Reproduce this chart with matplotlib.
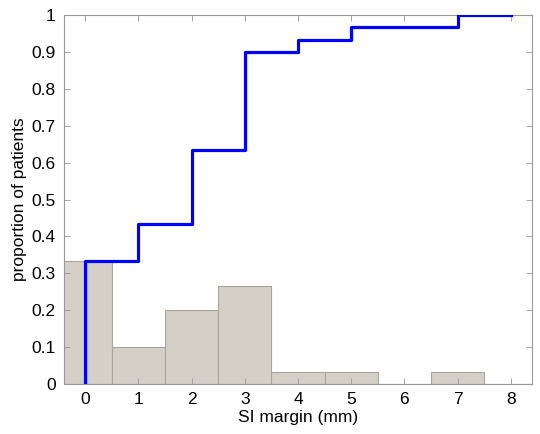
import numpy as np
import matplotlib
matplotlib.use("Agg")
import matplotlib.pyplot as plt

plt.rcParams["font.family"] = ["Liberation Sans", "DejaVu Sans"]

# SI margin histogram (30 patients)
margins = [0, 1, 2, 3, 4, 5, 6, 7, 8]
counts = [10, 3, 6, 8, 1, 1, 0, 1, 0]
n_patients = 30

proportion = np.array(counts) / n_patients
cumulative = np.cumsum(proportion)

fig = plt.figure(figsize=(5.4, 4.34), dpi=100)
ax = fig.add_axes([0.1185, 0.1152, 0.8667, 0.850])

ax.bar(margins, proportion, width=1.0, color="#d4d0c8", edgecolor="#a8a49e", linewidth=0.8, zorder=1)
ax.step([0] + margins, [0] + list(cumulative), where="post", color="#0000ff", linewidth=2.3, zorder=3)

ax.set_xlim(-0.4, 8.4)
ax.set_ylim(0, 1)
ax.set_xticks(margins)
ax.set_yticks(np.arange(0, 1.01, 0.1))
ax.set_yticklabels(["0", "0.1", "0.2", "0.3", "0.4", "0.5", "0.6", "0.7", "0.8", "0.9", "1"])
ax.tick_params(direction="in", top=True, right=True, length=4, width=0.6, color="#999999", labelsize=12.5, pad=6)
for s in ax.spines.values():
    s.set_color("#999999")
    s.set_linewidth(0.8)

ax.set_xlabel("SI margin (mm)", fontsize=12.5, labelpad=2)
ax.set_ylabel("proportion of patients", fontsize=12.5, labelpad=3)

fig.savefig("out.png", dpi=100)
